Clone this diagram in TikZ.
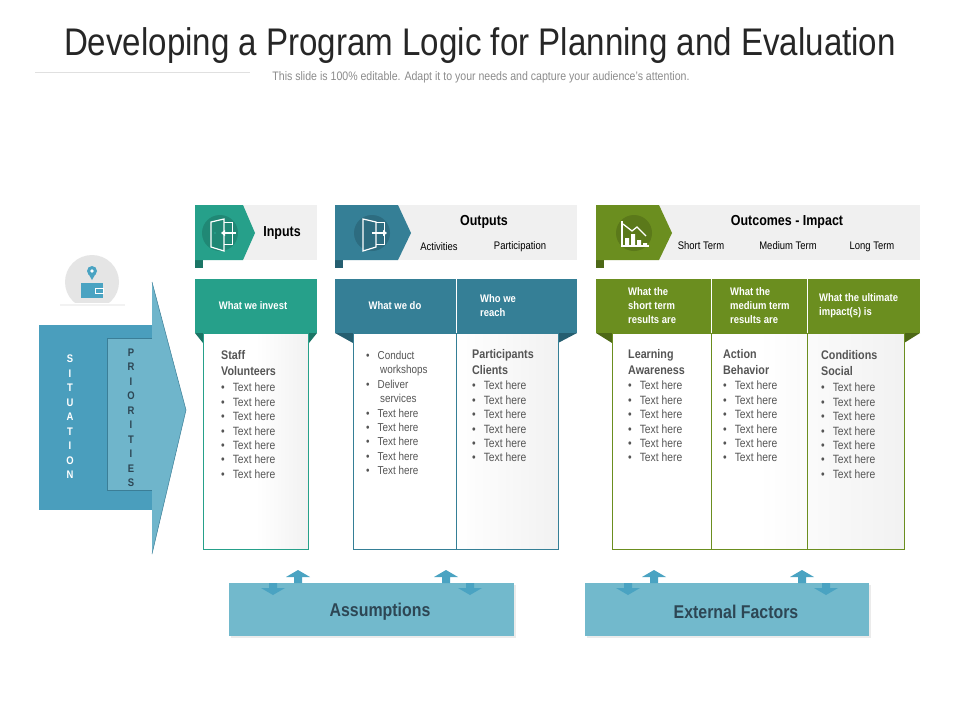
\documentclass[tikz,border=0pt]{standalone}
\usepackage{fontspec}
\setmainfont{Liberation Sans}[FakeStretch=0.86]
\usetikzlibrary{arrows.meta}
\definecolor{teal1}{HTML}{26A08A}
\definecolor{teal2}{HTML}{1B7565}
\definecolor{blue1}{HTML}{357F96}
\definecolor{blue2}{HTML}{255E70}
\definecolor{green1}{HTML}{6B8E1F}
\definecolor{green2}{HTML}{4D6816}
\definecolor{hdrgray}{HTML}{F0F0F0}
\definecolor{sitblue}{HTML}{4A9EBD}
\definecolor{prilight}{HTML}{6FB5CB}
\definecolor{boxblue}{HTML}{72B9CC}
\definecolor{arrblue}{HTML}{4AA3C2}
\definecolor{darktxt}{HTML}{2D4654}
\definecolor{txtgray}{HTML}{555555}
\tikzset{
 tb/.style={inner sep=0pt,font=\fontsize{12.5}{16}\selectfont\bfseries,text=txtgray,align=left,anchor=north west},
 wh/.style={inner sep=0pt,font=\fontsize{11}{14}\selectfont\bfseries,text=white,align=left},
 bl/.style={inner sep=0pt,font=\fontsize{12}{14.4}\selectfont,text=txtgray,align=left,anchor=north west},
 hd/.style={inner sep=0pt,font=\fontsize{14.5}{16}\selectfont\bfseries,text=black},
 sub/.style={inner sep=0pt,font=\fontsize{11}{12}\selectfont,text=black},
 col/.style={draw=#1,line width=0.8pt,left color=white,right color=white!85!gray!70,middle color=white},
 big/.style={inner sep=0pt,font=\fontsize{18.5}{20}\selectfont\bfseries,text=darktxt},
 letters/.style={inner sep=0pt,font=\fontsize{11}{14.5}\selectfont\bfseries,align=center},
}
\newcommand{\bul}[1]{\textbullet\hspace{8pt}#1}
\newcommand{\updn}[3]{% x-down x-up ytop
 \fill[arrblue] (#1-4,#3) rectangle (#1+4,#3+5) (#1-12,#3+5) -- (#1+12,#3+5) -- (#1,#3+12) -- cycle;
 \fill[arrblue] (#2-4,#3) rectangle (#2+4,#3-6) (#2-12,#3-6) -- (#2+12,#3-6) -- (#2,#3-13) -- cycle;}
\begin{document}
\begin{tikzpicture}[x=1pt,y=-1pt]
\useasboundingbox (0,0) rectangle (960,720);
\fill[white] (0,0) rectangle (960,720);
% title
\node[inner sep=0pt,font=\fontsize{38.5}{42}\selectfont,text=black!85] (title) at (480,46) {Developing a Program Logic for Planning and Evaluation};
\draw[black!12,line width=0.6pt] (35,72) -- (250,72);
\node[inner sep=0pt,font=\fontsize{12.3}{14}\selectfont,text=black!45] (subt) at (481,77) {This slide is 100\% editable. Adapt it to your needs and capture your audience's attention.};

% ---------- left arrow ----------
\fill[sitblue] (39,325) rectangle (152,510);
\fill[prilight] (152,282) -- (186,410) -- (152,554) -- cycle;
\fill[prilight] (107,338) rectangle (152,490);
\draw[sitblue!80!black,line width=0.5pt] (152,282) -- (186,410) -- (152,554);
\draw[sitblue!80!black,line width=0.5pt] (152,338) -- (107,338) -- (107,490) -- (152,490);
\fill[black!10] (92,282) circle (27);
\fill[white] (39,303) rectangle (150,325);
\fill[black!5] (60,304) rectangle (125,306);
% wallet icon
\fill[arrblue] (81,283) rectangle (103,298);
\draw[white,line width=1pt] (95,288) rectangle (103,293);
\fill[arrblue] (92,271) circle (5);
\fill[arrblue] (88,273) -- (96,273) -- (92,280) -- cycle;
\fill[white] (92,271) circle (1.8);
\node[letters,text=white] (sit) at (70,417) {S\\I\\T\\U\\A\\T\\I\\O\\N};
\node[letters,text=darktxt] (pri) at (131,418) {P\\R\\I\\O\\R\\I\\T\\I\\E\\S};

% ---------- header bars ----------
% Inputs
\fill[hdrgray] (195,205) rectangle (317,260);
\fill[teal2] (195,255) rectangle (203,268);
\fill[teal1] (195,205) -- (243,205) -- (255,233) -- (243,260) -- (195,260) -- cycle;
\fill[teal1!85!black] (220,233) circle (18);
\draw[white,line width=1.2pt] (211,222) -- (211,247) -- (224,251) -- (224,219) -- cycle;
\draw[white,line width=1pt] (224,222) -- (232,222) -- (232,244) -- (224,244);
\draw[white,line width=1.4pt,-{Triangle[length=4pt,width=6pt]}] (236,233) -- (221,233);
\fill[teal1] (215,233) circle (1.2);
\node[hd] (inp) at (282,233) {Inputs};
% Outputs
\fill[hdrgray] (335,205) rectangle (577,260);
\fill[blue2] (335,255) rectangle (343,268);
\fill[blue1] (335,205) -- (398,205) -- (411,233) -- (398,260) -- (335,260) -- cycle;
\fill[blue1!85!black] (372,233) circle (18);
\draw[white,line width=1.2pt] (363,219) -- (363,251) -- (376,247) -- (376,222) -- cycle;
\draw[white,line width=1pt] (376,222) -- (384,222) -- (384,244) -- (376,244);
\draw[white,line width=1.4pt,-{Triangle[length=4pt,width=6pt]}] (372,233) -- (387,233);
\node[hd] (outp) at (484,222) {Outputs};
\node[sub] (act) at (439,247) {Activities};
\node[sub] (par) at (520,247) {Participation};
% Outcomes
\fill[hdrgray] (596,205) rectangle (920,260);
\fill[green2] (596,255) rectangle (604,268);
\fill[green1] (596,205) -- (659,205) -- (672,233) -- (659,260) -- (596,260) -- cycle;
\fill[green1!85!black] (634,233) circle (18);
\draw[white,line width=1.3pt] (622,221) -- (622,246) -- (649,246);
\fill[white] (625,238) rectangle (629,246) (631,234) rectangle (635,246) (637,240) rectangle (641,246) (643,243) rectangle (647,246);
\draw[white,line width=1.3pt] (623,224) -- (632,231) -- (637,227) -- (646,236);
\node[hd] (outc) at (787,222) {Outcomes - Impact};
\node[sub] (st) at (701,246) {Short Term};
\node[sub] (mt) at (788,246) {Medium Term};
\node[sub] (lt) at (872,247) {Long Term};

% ---------- column headers ----------
\fill[teal2] (195,333) -- (203,343) -- (203,333) -- cycle (317,333) -- (309,343) -- (309,333) -- cycle;
\fill[blue2] (335,333) -- (353,343) -- (353,333) -- cycle (577,333) -- (558,343) -- (558,333) -- cycle;
\fill[green2] (596,333) -- (612,343) -- (612,333) -- cycle (920,333) -- (904,343) -- (904,333) -- cycle;
\fill[teal1] (195,279) rectangle (317,333);
\fill[blue1] (335,279) rectangle (577,333);
\fill[green1] (596,279) rectangle (920,333);
\draw[white,line width=0.8pt] (456,279) -- (456,333) (711,279) -- (711,333) (807,279) -- (807,333);
\node[wh] (h1) at (253,306) {What we invest};
\node[wh] (h2) at (395,306) {What we do};
\node[wh,anchor=west] (h3) at (480,306) {Who we\\reach};
\node[wh,anchor=west] (h4) at (628,306) {What the\\short term\\results are};
\node[wh,anchor=west] (h5) at (730,306) {What the\\medium term\\results are};
\node[wh,anchor=west] (h6) at (819,306) {What the ultimate\\impact(s) is};

% ---------- white boxes ----------
\draw[col=teal1] (203,333) rectangle (308,549);
\draw[col=blue1] (353,333) rectangle (558,549);
\draw[blue1,line width=0.8pt] (456,333) -- (456,549);
\draw[col=green1] (612,333) rectangle (904,549);
\draw[green1,line width=0.8pt] (711,333) -- (711,549) (807,333) -- (807,549);

\node[tb] (c1t) at (221,350) {Staff\\Volunteers};
\node[bl] (c1b) at (221,383) {\bul{Text here}\\\bul{Text here}\\\bul{Text here}\\\bul{Text here}\\\bul{Text here}\\\bul{Text here}\\\bul{Text here}};
\node[inner sep=0pt,font=\fontsize{11.5}{14.4}\selectfont,text=txtgray,align=left,anchor=north west] (c2) at (366,351)
 {\textbullet\hspace{8pt}Conduct\\\hspace*{14pt}workshops\\\textbullet\hspace{8pt}Deliver\\\hspace*{14pt}services\\\bul{Text here}\\\bul{Text here}\\\bul{Text here}\\\bul{Text here}\\\bul{Text here}};
\node[tb] (c3t) at (472,349) {Participants\\Clients};
\node[bl] (c3b) at (472,381) {\bul{Text here}\\\bul{Text here}\\\bul{Text here}\\\bul{Text here}\\\bul{Text here}\\\bul{Text here}};
\node[tb] (c4t) at (628,349) {Learning\\Awareness};
\node[bl] (c4b) at (628,381) {\bul{Text here}\\\bul{Text here}\\\bul{Text here}\\\bul{Text here}\\\bul{Text here}\\\bul{Text here}};
\node[tb] (c5t) at (723,349) {Action\\Behavior};
\node[bl] (c5b) at (723,381) {\bul{Text here}\\\bul{Text here}\\\bul{Text here}\\\bul{Text here}\\\bul{Text here}\\\bul{Text here}};
\node[tb] (c6t) at (821,350) {Conditions\\Social};
\node[bl] (c6b) at (821,383) {\bul{Text here}\\\bul{Text here}\\\bul{Text here}\\\bul{Text here}\\\bul{Text here}\\\bul{Text here}\\\bul{Text here}};

% ---------- bottom boxes ----------
\fill[black!8] (231,585) rectangle (516,638);
\fill[black!8] (587,585) rectangle (871,638);
\fill[boxblue] (229,583) rectangle (514,636);
\fill[boxblue] (585,583) rectangle (869,636);
\node[big] (ass) at (380,612) {Assumptions};
\node[big] (ext) at (736,612) {External Factors};
\updn{273}{298}{583}
\updn{470}{446}{583}
\updn{628}{654}{583}
\updn{826}{802}{583}
\end{tikzpicture}
\end{document}
